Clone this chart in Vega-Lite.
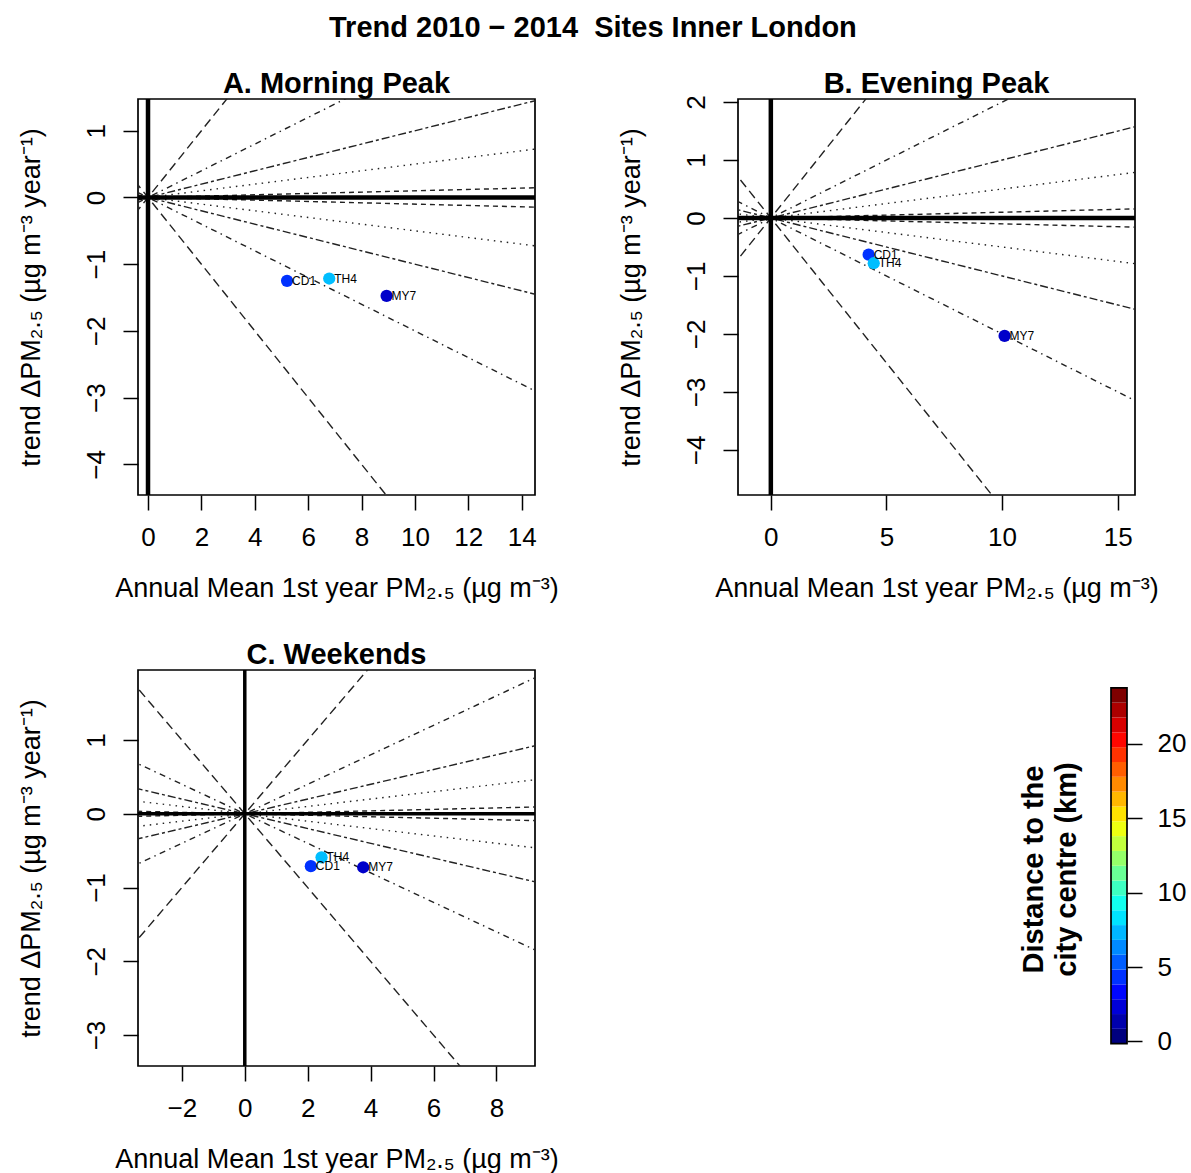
{
  "$schema": "https://vega.github.io/schema/vega-lite/v6.json",
  "padding": {"left": 16, "top": 13, "right": 5, "bottom": 5},
  "background": "white",
  "title": {"text": "Trend 2010 − 2014\u00a0 Sites Inner London", "fontSize": 29, "fontWeight": "bold", "font": "Liberation Sans", "color": "black", "anchor": "start", "frame": "group", "dx": 191, "offset": 3.3, "baseline": "alphabetic"},
  "config": {
    "font": "Liberation Sans",
    "view": {"stroke": "black", "strokeWidth": 1.7},
    "axis": {"grid": false, "domain": false, "ticks": true, "tickSize": 15, "tickColor": "black", "tickWidth": 1.5, "labelFontSize": 26, "labelColor": "black", "titleFontSize": 27, "titleFontWeight": "normal", "titleColor": "black", "labelFont": "Liberation Sans", "titleFont": "Liberation Sans", "labelOverlap": false, "labelFlush": false, "format": "d"},
    "axisX": {"labelAngle": 0, "labelAlign": "center", "labelBaseline": "alphabetic", "labelPadding": 35, "titleX": 198.5, "titleY": 101, "titleAlign": "center", "titleBaseline": "alphabetic", "titleAngle": 0},
    "axisY": {"labelAngle": 270, "labelAlign": "center", "labelBaseline": "alphabetic", "labelPadding": 19, "titleX": -99, "titleY": 198, "titleAngle": 270, "titleAlign": "center", "titleBaseline": "alphabetic"}
  },
  "datasets": {
    "pts": [
      {"panel": "A", "site": "CD1", "x": 5.21, "y": -1.25, "dist": 4.0},
      {"panel": "A", "site": "TH4", "x": 6.79, "y": -1.215, "dist": 7.3},
      {"panel": "A", "site": "MY7", "x": 8.94, "y": -1.475, "dist": 1.6},
      {"panel": "B", "site": "CD1", "x": 4.23, "y": -0.633, "dist": 4.0},
      {"panel": "B", "site": "TH4", "x": 4.45, "y": -0.78, "dist": 7.3},
      {"panel": "B", "site": "MY7", "x": 10.11, "y": -2.035, "dist": 1.6},
      {"panel": "C", "site": "TH4", "x": 2.44, "y": -0.59, "dist": 7.3},
      {"panel": "C", "site": "CD1", "x": 2.1, "y": -0.71, "dist": 4.0},
      {"panel": "C", "site": "MY7", "x": 3.765, "y": -0.725, "dist": 1.6}
    ],
    "refl": [
      {"lty": "s50", "x": -10, "y": 5, "x2": 20, "y2": -10},
      {"lty": "s20", "x": -10, "y": 2, "x2": 20, "y2": -4},
      {"lty": "s10", "x": -10, "y": 1, "x2": 20, "y2": -2},
      {"lty": "s05", "x": -10, "y": 0.5, "x2": 20, "y2": -1},
      {"lty": "s01", "x": -10, "y": 0.1, "x2": 20, "y2": -0.2},
      {"lty": "s01", "x": -10, "y": -0.1, "x2": 20, "y2": 0.2},
      {"lty": "s05", "x": -10, "y": -0.5, "x2": 20, "y2": 1},
      {"lty": "s10", "x": -10, "y": -1, "x2": 20, "y2": 2},
      {"lty": "s20", "x": -10, "y": -2, "x2": 20, "y2": 4},
      {"lty": "s50", "x": -10, "y": -5, "x2": 20, "y2": 10}
    ],
    "zero": [{"v": 0}],
    "bands": [
      {"lo": -0.15, "hi": 0.847, "dist": -0.15},
      {"lo": 0.847, "hi": 1.843, "dist": 0.89},
      {"lo": 1.843, "hi": 2.84, "dist": 1.93},
      {"lo": 2.84, "hi": 3.837, "dist": 2.97},
      {"lo": 3.837, "hi": 4.833, "dist": 4.01},
      {"lo": 4.833, "hi": 5.83, "dist": 5.05},
      {"lo": 5.83, "hi": 6.827, "dist": 6.09},
      {"lo": 6.827, "hi": 7.823, "dist": 7.13},
      {"lo": 7.823, "hi": 8.82, "dist": 8.17},
      {"lo": 8.82, "hi": 9.817, "dist": 9.21},
      {"lo": 9.817, "hi": 10.813, "dist": 10.25},
      {"lo": 10.813, "hi": 11.81, "dist": 11.29},
      {"lo": 11.81, "hi": 12.807, "dist": 12.33},
      {"lo": 12.807, "hi": 13.803, "dist": 13.37},
      {"lo": 13.803, "hi": 14.8, "dist": 14.41},
      {"lo": 14.8, "hi": 15.797, "dist": 15.45},
      {"lo": 15.797, "hi": 16.793, "dist": 16.49},
      {"lo": 16.793, "hi": 17.79, "dist": 17.53},
      {"lo": 17.79, "hi": 18.787, "dist": 18.57},
      {"lo": 18.787, "hi": 19.783, "dist": 19.61},
      {"lo": 19.783, "hi": 20.78, "dist": 20.65},
      {"lo": 20.78, "hi": 21.777, "dist": 21.69},
      {"lo": 21.777, "hi": 22.773, "dist": 22.73},
      {"lo": 22.773, "hi": 23.77, "dist": 23.77}
    ],
    "barframe": [{"lo": -0.15, "hi": 23.77}]
  },
  "bounds": "flush",
  "columns": 2,
  "spacing": {"row": 175, "column": 203},
  "concat": [
    {
      "width": 397, "height": 396,
      "title": {"text": "A. Morning Peak", "fontSize": 29, "fontWeight": "bold", "color": "black", "frame": "group", "anchor": "middle", "baseline": "alphabetic", "offset": -23.2},
      "layer": [
        {
          "data": {"name": "refl"},
          "mark": {"type": "rule", "clip": true, "strokeWidth": 1.4, "color": "#222"},
          "encoding": {
            "x": {"field": "x", "type": "quantitative", "scale": {"domain": [-0.375, 14.5], "nice": false, "zero": false}, "axis": {"values": [0, 2, 4, 6, 8, 10, 12, 14], "title": "Annual Mean 1st year PM₂.₅ (µg m⁻³)"}},
            "y": {"field": "y", "type": "quantitative", "scale": {"domain": [-4.46, 1.476], "nice": false, "zero": false}, "axis": {"values": [1, 0, -1, -2, -3, -4], "title": "trend ΔPM₂.₅ (µg m⁻³ year⁻¹)"}},
            "x2": {"field": "x2"},
            "y2": {"field": "y2"},
            "strokeDash": {"field": "lty", "type": "nominal", "scale": {"domain": ["s50", "s20", "s10", "s05", "s01"], "range": [[9, 5], [1.5, 4.5, 6, 4.5], [3, 3, 8, 3], [1.5, 5], [5, 4]]}, "legend": null}
          }
        },
        {
          "data": {"name": "zero"},
          "mark": {"type": "rule", "clip": true, "strokeWidth": 4.5, "color": "black"},
          "encoding": {"y": {"field": "v", "type": "quantitative", "scale": {"domain": [-4.46, 1.476], "nice": false, "zero": false}}}
        },
        {
          "data": {"name": "zero"},
          "mark": {"type": "rule", "clip": true, "strokeWidth": 4.5, "color": "black"},
          "encoding": {"x": {"field": "v", "type": "quantitative", "scale": {"domain": [-0.375, 14.5], "nice": false, "zero": false}}}
        },
        {
          "data": {"name": "pts"},
          "transform": [{"filter": "datum.panel == 'A'"}],
          "mark": {"type": "circle", "size": 150, "opacity": 1},
          "encoding": {
            "x": {"field": "x", "type": "quantitative", "scale": {"domain": [-0.375, 14.5], "nice": false, "zero": false}},
            "y": {"field": "y", "type": "quantitative", "scale": {"domain": [-4.46, 1.476], "nice": false, "zero": false}},
            "color": {"field": "dist", "type": "quantitative", "scale": {"domain": [-0.15, 23.77], "range": ["#00007F", "#0000FF", "#007FFF", "#00FFFF", "#7FFF7F", "#FFFF00", "#FF7F00", "#FF0000", "#7F0000"], "interpolate": "rgb"}, "legend": null}
          }
        },
        {
          "data": {"name": "pts"},
          "transform": [{"filter": "datum.panel == 'A'"}],
          "mark": {"type": "text", "align": "left", "baseline": "middle", "dx": 5, "fontSize": 12, "color": "black"},
          "encoding": {
            "x": {"field": "x", "type": "quantitative", "scale": {"domain": [-0.375, 14.5], "nice": false, "zero": false}},
            "y": {"field": "y", "type": "quantitative", "scale": {"domain": [-4.46, 1.476], "nice": false, "zero": false}},
            "text": {"field": "site"}
          }
        }
      ]
    },
    {
      "width": 397, "height": 396,
      "title": {"text": "B. Evening Peak", "fontSize": 29, "fontWeight": "bold", "color": "black", "frame": "group", "anchor": "middle", "baseline": "alphabetic", "offset": -27.2},
      "layer": [
        {
          "data": {"name": "refl"},
          "mark": {"type": "rule", "clip": true, "strokeWidth": 1.4, "color": "#222"},
          "encoding": {
            "x": {"field": "x", "type": "quantitative", "scale": {"domain": [-1.42, 15.75], "nice": false, "zero": false}, "axis": {"values": [0, 5, 10, 15], "title": "Annual Mean 1st year PM₂.₅ (µg m⁻³)"}},
            "y": {"field": "y", "type": "quantitative", "scale": {"domain": [-4.78, 2.054], "nice": false, "zero": false}, "axis": {"values": [2, 1, 0, -1, -2, -3, -4], "title": "trend ΔPM₂.₅ (µg m⁻³ year⁻¹)"}},
            "x2": {"field": "x2"},
            "y2": {"field": "y2"},
            "strokeDash": {"field": "lty", "type": "nominal", "scale": {"domain": ["s50", "s20", "s10", "s05", "s01"], "range": [[9, 5], [1.5, 4.5, 6, 4.5], [3, 3, 8, 3], [1.5, 5], [5, 4]]}, "legend": null}
          }
        },
        {
          "data": {"name": "zero"},
          "mark": {"type": "rule", "clip": true, "strokeWidth": 4.5, "color": "black"},
          "encoding": {"y": {"field": "v", "type": "quantitative", "scale": {"domain": [-4.78, 2.054], "nice": false, "zero": false}}}
        },
        {
          "data": {"name": "zero"},
          "mark": {"type": "rule", "clip": true, "strokeWidth": 4.5, "color": "black"},
          "encoding": {"x": {"field": "v", "type": "quantitative", "scale": {"domain": [-1.42, 15.75], "nice": false, "zero": false}}}
        },
        {
          "data": {"name": "pts"},
          "transform": [{"filter": "datum.panel == 'B'"}],
          "mark": {"type": "circle", "size": 150, "opacity": 1},
          "encoding": {
            "x": {"field": "x", "type": "quantitative", "scale": {"domain": [-1.42, 15.75], "nice": false, "zero": false}},
            "y": {"field": "y", "type": "quantitative", "scale": {"domain": [-4.78, 2.054], "nice": false, "zero": false}},
            "color": {"field": "dist", "type": "quantitative", "scale": {"domain": [-0.15, 23.77], "range": ["#00007F", "#0000FF", "#007FFF", "#00FFFF", "#7FFF7F", "#FFFF00", "#FF7F00", "#FF0000", "#7F0000"], "interpolate": "rgb"}, "legend": null}
          }
        },
        {
          "data": {"name": "pts"},
          "transform": [{"filter": "datum.panel == 'B'"}],
          "mark": {"type": "text", "align": "left", "baseline": "middle", "dx": 5, "fontSize": 12, "color": "black"},
          "encoding": {
            "x": {"field": "x", "type": "quantitative", "scale": {"domain": [-1.42, 15.75], "nice": false, "zero": false}},
            "y": {"field": "y", "type": "quantitative", "scale": {"domain": [-4.78, 2.054], "nice": false, "zero": false}},
            "text": {"field": "site"}
          }
        }
      ]
    },
    {
      "width": 397, "height": 396,
      "title": {"text": "C. Weekends", "fontSize": 29, "fontWeight": "bold", "color": "black", "frame": "group", "anchor": "middle", "baseline": "alphabetic", "offset": -23.2},
      "layer": [
        {
          "data": {"name": "refl"},
          "mark": {"type": "rule", "clip": true, "strokeWidth": 1.4, "color": "#222"},
          "encoding": {
            "x": {"field": "x", "type": "quantitative", "scale": {"domain": [-3.395, 9.227], "nice": false, "zero": false}, "axis": {"values": [-2, 0, 2, 4, 6, 8], "title": "Annual Mean 1st year PM₂.₅ (µg m⁻³)"}},
            "y": {"field": "y", "type": "quantitative", "scale": {"domain": [-3.42, 1.95], "nice": false, "zero": false}, "axis": {"values": [1, 0, -1, -2, -3], "title": "trend ΔPM₂.₅ (µg m⁻³ year⁻¹)"}},
            "x2": {"field": "x2"},
            "y2": {"field": "y2"},
            "strokeDash": {"field": "lty", "type": "nominal", "scale": {"domain": ["s50", "s20", "s10", "s05", "s01"], "range": [[9, 5], [1.5, 4.5, 6, 4.5], [3, 3, 8, 3], [1.5, 5], [5, 4]]}, "legend": null}
          }
        },
        {
          "data": {"name": "zero"},
          "mark": {"type": "rule", "clip": true, "strokeWidth": 3.5, "color": "black"},
          "encoding": {"y": {"field": "v", "type": "quantitative", "scale": {"domain": [-3.42, 1.95], "nice": false, "zero": false}}}
        },
        {
          "data": {"name": "zero"},
          "mark": {"type": "rule", "clip": true, "strokeWidth": 3.5, "color": "black"},
          "encoding": {"x": {"field": "v", "type": "quantitative", "scale": {"domain": [-3.395, 9.227], "nice": false, "zero": false}}}
        },
        {
          "data": {"name": "pts"},
          "transform": [{"filter": "datum.panel == 'C'"}],
          "mark": {"type": "circle", "size": 150, "opacity": 1},
          "encoding": {
            "x": {"field": "x", "type": "quantitative", "scale": {"domain": [-3.395, 9.227], "nice": false, "zero": false}},
            "y": {"field": "y", "type": "quantitative", "scale": {"domain": [-3.42, 1.95], "nice": false, "zero": false}},
            "color": {"field": "dist", "type": "quantitative", "scale": {"domain": [-0.15, 23.77], "range": ["#00007F", "#0000FF", "#007FFF", "#00FFFF", "#7FFF7F", "#FFFF00", "#FF7F00", "#FF0000", "#7F0000"], "interpolate": "rgb"}, "legend": null}
          }
        },
        {
          "data": {"name": "pts"},
          "transform": [{"filter": "datum.panel == 'C'"}],
          "mark": {"type": "text", "align": "left", "baseline": "middle", "dx": 5, "fontSize": 12, "color": "black"},
          "encoding": {
            "x": {"field": "x", "type": "quantitative", "scale": {"domain": [-3.395, 9.227], "nice": false, "zero": false}},
            "y": {"field": "y", "type": "quantitative", "scale": {"domain": [-3.42, 1.95], "nice": false, "zero": false}},
            "text": {"field": "site"}
          }
        }
      ]
    },
    {
      "width": 389, "height": 396,
      "view": {"stroke": null},
      "layer": [
        {
          "data": {"name": "bands"},
          "mark": {"type": "rect"},
          "encoding": {
            "x": {"datum": 0, "type": "quantitative", "scale": {"domain": [-23.3125, 1], "nice": false, "zero": false}, "axis": null},
            "x2": {"datum": 1},
            "y": {"field": "lo", "type": "quantitative", "scale": {"domain": [-1.65, 24.97], "nice": false, "zero": false}, "axis": {"orient": "right", "values": [0, 5, 10, 15, 20], "labelAngle": 0, "labelAlign": "left", "labelBaseline": "middle", "labelPadding": 15, "title": ["Distance to the", "city centre (km)"], "titleFontWeight": "bold", "titleFontSize": 29, "titleAngle": 270, "titleX": -85, "titleY": 199, "titleAlign": "center", "titleBaseline": "alphabetic", "titleLineHeight": 33}},
            "y2": {"field": "hi"},
            "color": {"field": "dist", "type": "quantitative", "scale": {"domain": [-0.15, 23.77], "range": ["#00007F", "#0000FF", "#007FFF", "#00FFFF", "#7FFF7F", "#FFFF00", "#FF7F00", "#FF0000", "#7F0000"], "interpolate": "rgb"}, "legend": null}
          }
        },
        {
          "data": {"name": "barframe"},
          "mark": {"type": "rect", "filled": false, "stroke": "black", "strokeWidth": 1.7},
          "encoding": {
            "x": {"datum": 0, "type": "quantitative", "scale": {"domain": [-23.3125, 1], "nice": false, "zero": false}},
            "x2": {"datum": 1},
            "y": {"field": "lo", "type": "quantitative", "scale": {"domain": [-1.65, 24.97], "nice": false, "zero": false}},
            "y2": {"field": "hi"}
          }
        }
      ]
    }
  ]
}
